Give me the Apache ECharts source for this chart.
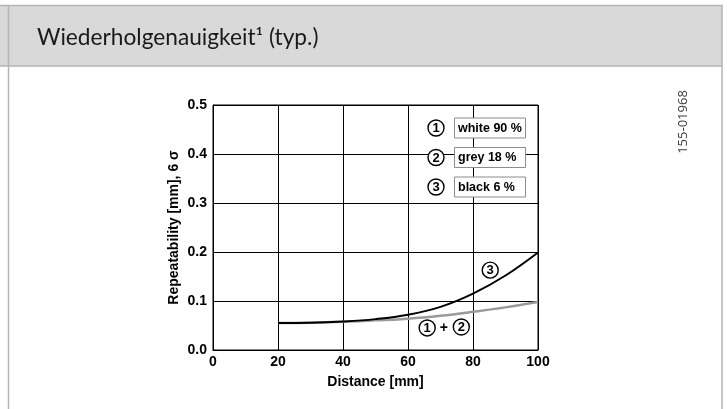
<!DOCTYPE html>
<html><head><meta charset="utf-8">
<script src="https://cdn.jsdelivr.net/npm/echarts@6/dist/echarts.min.js"></script>
<style>html,body{margin:0;padding:0;background:#fff}#c{width:727px;height:409px}</style>
</head><body><div id="c"></div>
<script>
const distance = [20, 30, 40, 50, 60, 70, 80, 90, 100];
const black6 = [0.055, 0.0555, 0.058, 0.063, 0.072, 0.088, 0.115, 0.152, 0.199];
const whiteGrey = [0.055, 0.0555, 0.0575, 0.0605, 0.064, 0.070, 0.078, 0.087, 0.098];
const xTicks = [0, 20, 40, 60, 80, 100];
const yTicks = [0.0, 0.1, 0.2, 0.3, 0.4, 0.5];
const legendItems = [['1', 'white 90 %'], ['2', 'grey 18 %'], ['3', 'black 6 %']];
const titleText = 'Wiederholgenauigkeit\u00b9 (typ.)';
const docNo = '155-01968';

const chart = echarts.init(document.getElementById('c'), null, {renderer: 'canvas'});
const lblFont = {fontFamily: '"Liberation Sans", Arial, sans-serif', fontWeight: 'bold', fontSize: 14, color: '#000'};
const nameFont = {fontFamily: '"Liberation Sans", Arial, sans-serif', fontWeight: 'bold', fontSize: 14, color: '#000'};
const option = {
  animation: false,
  backgroundColor: '#fff',
  grid: {left: 213, right: 189, top: 105, bottom: 59, show: true, borderColor: '#000', borderWidth: 1},
  xAxis: {
    type: 'value', min: xTicks[0], max: xTicks[xTicks.length - 1], interval: 20,
    name: 'Distance [mm]', nameLocation: 'middle', nameGap: 25,
    nameTextStyle: nameFont,
    axisLine: {lineStyle: {color: '#000', width: 1}}, axisTick: {show: false},
    axisLabel: Object.assign({margin: 5, formatter: v => String(v)}, lblFont),
    splitLine: {show: true, lineStyle: {color: '#000', width: 1}}
  },
  yAxis: {
    type: 'value', min: yTicks[0], max: yTicks[yTicks.length - 1], interval: 0.1,
    name: 'Repeatability [mm], 6 \u03c3', nameLocation: 'middle', nameGap: 32,
    nameTextStyle: nameFont,
    axisLine: {show: true, lineStyle: {color: '#000', width: 1}}, axisTick: {show: false},
    axisLabel: Object.assign({margin: 6, formatter: v => v.toFixed(1)}, lblFont),
    splitLine: {show: true, lineStyle: {color: '#000', width: 1}}
  },
  series: [
    {type: 'line', name: 'white/grey', data: distance.map((x, i) => [x, whiteGrey[i]]), smooth: 0.4,
      symbol: 'none', lineStyle: {color: '#9a9a9a', width: 2.5}, z: 3},
    {type: 'line', name: 'black', data: distance.map((x, i) => [x, black6[i]]), smooth: 0.4,
      symbol: 'none', lineStyle: {color: '#000', width: 2}, z: 4}
  ]
};
chart.setOption(option);

function circleNum(cx, cy, n) {
  return {type: 'group', x: cx, y: cy, z: 100, children: [
    {type: 'circle', shape: {cx: 0, cy: 0, r: 8}, style: {fill: '#fff', stroke: '#000', lineWidth: 1.4}},
    {type: 'text', style: {x: 0, y: 0.5, text: n, fill: '#000', font: 'bold 13px "Liberation Sans", Arial', textAlign: 'center', textVerticalAlign: 'middle'}}
  ]};
}
const g = [];
// frame
g.push({type: 'rect', shape: {x: 0, y: 6, width: 722, height: 60}, style: {fill: '#d9d9d9'}, z: 0});
g.push({type: 'line', shape: {x1: 0, y1: 5.5, x2: 723, y2: 5.5}, style: {stroke: '#b5b5b5', lineWidth: 1.5}});
g.push({type: 'line', shape: {x1: 0, y1: 66, x2: 723, y2: 66}, style: {stroke: '#b5b5b5', lineWidth: 1.5}});
g.push({type: 'line', shape: {x1: 8.5, y1: 6, x2: 8.5, y2: 409}, style: {stroke: '#b5b5b5', lineWidth: 1.5}});
g.push({type: 'line', shape: {x1: 722, y1: 6, x2: 722, y2: 409}, style: {stroke: '#b5b5b5', lineWidth: 1.5}});
g.push({type: 'text', style: {x: 37, y: 38, text: titleText, fill: '#1a1a1a', font: '22.7px Lato', textVerticalAlign: 'middle'}});
g.push({type: 'text', rotation: Math.PI / 2, x: 683, y: 122, style: {x: 0, y: 0, text: docNo, fill: '#3a3a3a', font: '13px "Open Sans"', textAlign: 'center', textVerticalAlign: 'middle'}});
// legend
legendItems.forEach((it, i) => {
  const cy = 128 + i * 29.5;
  g.push(circleNum(436, cy, it[0]));
  g.push({type: 'rect', z: 99, shape: {x: 454.5, y: cy - 10, width: 71, height: 20}, style: {fill: '#fff', stroke: '#8c8c8c', lineWidth: 1}});
  g.push({type: 'text', z: 100, style: {x: 458, y: cy + 0.5, text: it[1], fill: '#000', font: 'bold 12.5px "Liberation Sans", Arial', textVerticalAlign: 'middle'}});
});
// curve annotations (data coords)
const p3 = chart.convertToPixel({gridIndex: 0}, [85.3, 0.163]);
g.push(circleNum(p3[0], p3[1], '3'));
const p1 = chart.convertToPixel({gridIndex: 0}, [65.9, 0.045]);
const pp = chart.convertToPixel({gridIndex: 0}, [71.0, 0.046]);
const p2 = chart.convertToPixel({gridIndex: 0}, [76.4, 0.047]);
g.push(circleNum(p1[0], p1[1], '1'));
g.push({type: 'text', z: 100, style: {x: pp[0], y: pp[1] + 1, text: '+', fill: '#000', font: 'bold 14px "Liberation Sans", Arial', textAlign: 'center', textVerticalAlign: 'middle'}});
g.push(circleNum(p2[0], p2[1], '2'));
chart.setOption({graphic: g});
</script></body></html>
